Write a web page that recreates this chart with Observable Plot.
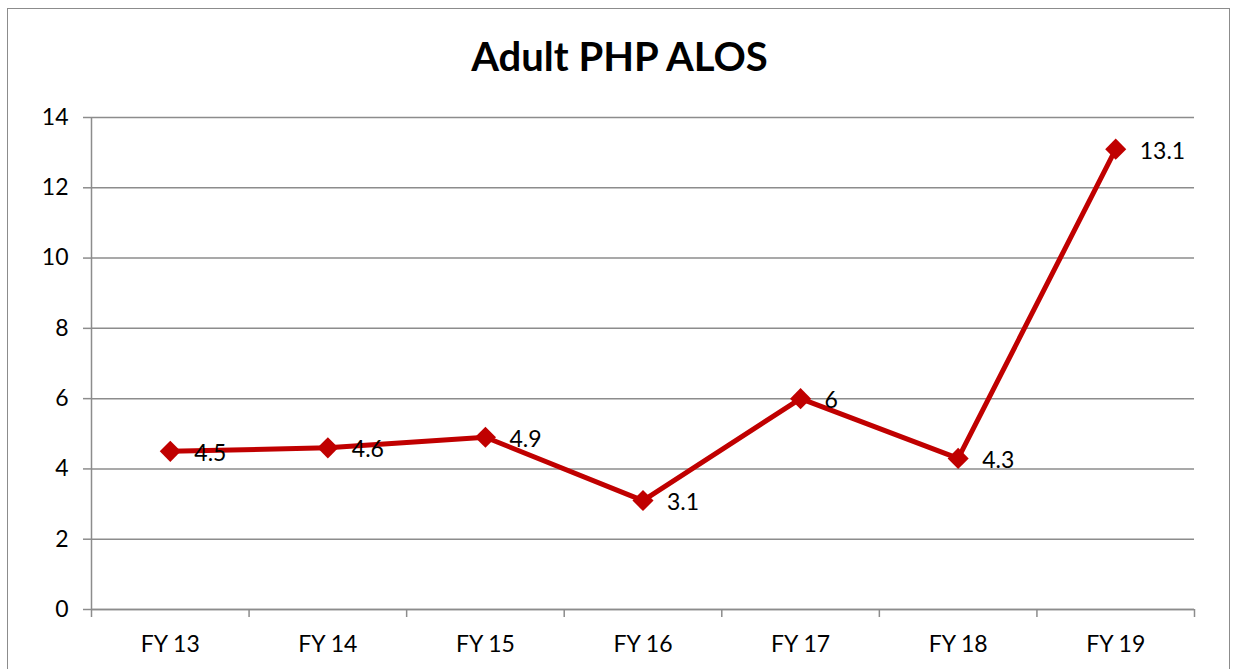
<!DOCTYPE html>
<html><head><meta charset="utf-8">
<script src="https://cdn.jsdelivr.net/npm/d3@7"></script>
<script src="https://cdn.jsdelivr.net/npm/@observablehq/plot@0.6"></script>
<style>
body{margin:0;background:#fff;}
#wrap{position:relative;width:1233px;height:669px;overflow:hidden;font-family:Lato,sans-serif;}
#frame{position:absolute;left:7px;top:8px;width:1223px;height:700px;border:1.5px solid #8c8c8c;box-sizing:border-box;}
#title{position:absolute;left:7px;width:1225px;top:32px;text-align:center;font-weight:bold;font-size:40px;line-height:48px;color:#000;}
#chart{position:absolute;left:0;top:0;}
</style>
</head><body>
<div id="wrap"><div id="frame"></div><div id="title">Adult PHP ALOS</div><div id="chart"></div></div>
<script>
const categories = ["FY 13","FY 14","FY 15","FY 16","FY 17","FY 18","FY 19"];
const alos = [4.5, 4.6, 4.9, 3.1, 6, 4.3, 13.1];
const yTicks = [0, 2, 4, 6, 8, 10, 12, 14];

const data = categories.map((c, i) => ({i, c, v: alos[i]}));
const idx = categories.map((c, i) => i);
const bounds = [...idx.map(i => i - 0.5), categories.length - 0.5];
const grey = "#8c8c8c";

const chart = Plot.plot({
  width: 1233, height: 669,
  marginLeft: 91, marginRight: 39, marginTop: 117, marginBottom: 60,
  style: {fontFamily: "Lato, sans-serif", fontSize: "23px", color: "#000", background: "transparent"},
  x: {type: "linear", domain: [-0.5, categories.length - 0.5]},
  y: {domain: [0, 14]},
  marks: [
    Plot.gridY(yTicks, {stroke: grey, strokeOpacity: 1, strokeWidth: 1.5}),
    Plot.axisY(yTicks, {tickSize: 8, tickPadding: 15, stroke: grey, strokeWidth: 1.5, fill: "#000", fontSize: 23, label: null}),
    Plot.ruleX([-0.5], {stroke: grey, strokeWidth: 1.5}),
    Plot.ruleY([0], {stroke: grey, strokeWidth: 1.5}),
    Plot.axisX(bounds, {tickSize: 8, stroke: grey, strokeWidth: 1.5, tickFormat: () => "", label: null}),
    Plot.axisX(idx, {tickSize: 0, tickPadding: 26, tickFormat: i => categories[i], fill: "#000", fontSize: 23, label: null}),
    Plot.line(data, {x: "i", y: "v", stroke: "#C00000", strokeWidth: 5}),
    Plot.dot(data, {x: "i", y: "v", symbol: "diamond2", r: 9.5, fill: "#C00000", stroke: "none"}),
    Plot.text(data, {x: "i", y: "v", text: d => String(d.v), dx: 24, dy: 2, textAnchor: "start", fill: "#000", fontSize: 23})
  ]
});
document.getElementById("chart").appendChild(chart);
</script>
</body></html>
